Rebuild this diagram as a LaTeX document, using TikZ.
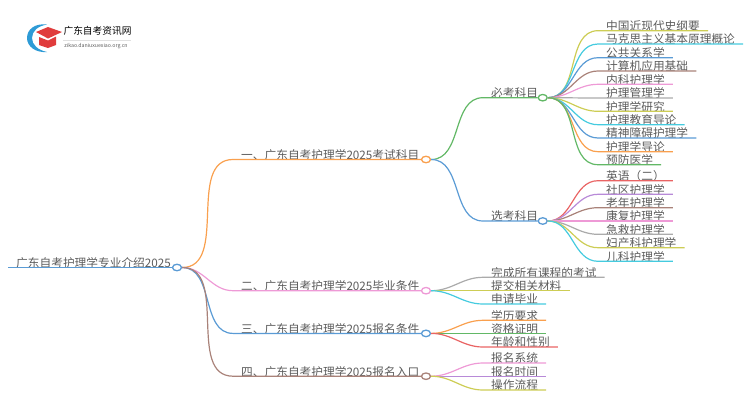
\documentclass[tikz,border=0pt]{standalone}
\usepackage{fontspec}
\setmainfont{Noto Sans CJK SC}
\usetikzlibrary{shapes.geometric}
\definecolor{cBlue}{HTML}{5A9BD5}
\definecolor{cOrange}{HTML}{F9A04E}
\definecolor{cGreen}{HTML}{62B866}
\definecolor{cPink}{HTML}{EE9AD6}
\definecolor{cBrown}{HTML}{A98279}
\definecolor{cOlive}{HTML}{CDCD55}
\definecolor{cCyan}{HTML}{45CBDF}
\definecolor{cGray}{HTML}{ABABAB}
\definecolor{cRed}{HTML}{E96464}
\definecolor{cPurple}{HTML}{B88AD8}
\definecolor{cText}{HTML}{5C5C5C}
\definecolor{cLogoBlue}{HTML}{2E9BD6}
\definecolor{cLogoRed}{HTML}{E03C3C}
\tikzset{
  topic/.style={anchor=south west, inner xsep=8pt, inner ysep=0pt, text height=10pt, text depth=0pt, text=cText, font=\fontsize{11.7}{12}\selectfont},
  dot/.style={draw=#1, fill=white, ellipse, line width=1.3pt, minimum width=9pt, minimum height=6.5pt, inner sep=0pt},
  link/.style={draw=#1, line width=1.2pt}
}
\begin{document}
\begin{tikzpicture}[x=1pt, y=-1pt]
  \useasboundingbox (0,0) rectangle (750,410);

  % logo
  \fill[cLogoBlue] (47,24.5) .. controls (34,23) and (27,30) .. (27,38) .. controls (27,46) and (35,53) .. (47,52) .. controls (38,50) and (32,45) .. (32,38) .. controls (32,31) and (38,26) .. (47,24.5) -- cycle;
  \fill[cLogoRed] (36,32) -- (48,27) -- (62,32) -- (48,38.5) -- cycle;
  \fill[cLogoRed] (39,37) -- (48,40.5) -- (56,36.5) -- (56,45) -- (48,48) -- (39,45) -- cycle;
  \node[inner sep=0pt, font=\fontsize{9.7}{10}\selectfont] (logotitle) at (97.5,31) {广东自考资讯网};
  \node[inner sep=0pt, text=cText, font=\fontsize{5.2}{6}\selectfont] (logourl) at (96,46.5) {zikao.daniuxuexiao.org.cn};
  \draw[black!12, line width=0.5pt] (63,40.5) -- (131,40.5);

  % root and first level
  \node[topic] (root) at (8,267.5) {广东自考护理学专业介绍2025};
  \node[topic] (exam) at (233,159.5) {一、广东自考护理学2025考试科目};
  \node[topic] (grad) at (233,290.7) {二、广东自考护理学2025毕业条件};
  \node[topic] (sign) at (233,333.4) {三、广东自考护理学2025报名条件};
  \node[topic] (entry) at (233,376.2) {四、广东自考护理学2025报名入口};
  \node[topic] (must) at (483,97.7) {必考科目};
  \node[topic] (opt) at (483,221) {选考科目};

  \node[dot=cBlue] (rootdot) at (177,267.5) {};
  \node[dot=cOrange] (examdot) at (426,159.5) {};
  \node[dot=cPink] (graddot) at (426,290.7) {};
  \node[dot=cBlue] (signdot) at (426,333.4) {};
  \node[dot=cBrown] (entrydot) at (426,376.2) {};
  \node[dot=cGreen] (mustdot) at (542.7,97.7) {};
  \node[dot=cBlue] (optdot) at (542.7,221) {};

  \draw[link=cBlue] (root.south west) -- (rootdot);
  \draw[link=cOrange] (rootdot.east) to[out=0,in=180] (exam.south west) -- (examdot);
  \draw[link=cPink] (rootdot.east) to[out=0,in=180] (grad.south west) -- (graddot);
  \draw[link=cBlue] (rootdot.east) to[out=0,in=180] (sign.south west) -- (signdot);
  \draw[link=cBrown] (rootdot.east) to[out=0,in=180] (entry.south west) -- (entrydot);
  \draw[link=cGreen] (examdot.east) to[out=0,in=180] (must.south west) -- (mustdot);
  \draw[link=cBlue] (examdot.east) to[out=0,in=180] (opt.south west) -- (optdot);

  % required subjects
  \node[topic] (m1) at (598,30.7) {中国近现代史纲要};
  \node[topic] (m2) at (598,44) {马克思主义基本原理概论};
  \node[topic] (m3) at (598,57.7) {公共关系学};
  \node[topic] (m4) at (598,71) {计算机应用基础};
  \node[topic] (m5) at (598,84.3) {内科护理学};
  \node[topic] (m6) at (598,98) {护理管理学};
  \node[topic] (m7) at (598,111.3) {护理学研究};
  \node[topic] (m8) at (598,124.7) {护理教育导论};
  \node[topic] (m9) at (598,138) {精神障碍护理学};
  \node[topic] (m10) at (598,151.7) {护理学导论};
  \node[topic] (m11) at (598,164.7) {预防医学};
  \draw[link=cOlive] (mustdot.east) to[out=0,in=180] (m1.south west) -- (m1.south east);
  \draw[link=cCyan] (mustdot.east) to[out=0,in=180] (m2.south west) -- (m2.south east);
  \draw[link=cBlue] (mustdot.east) to[out=0,in=180] (m3.south west) -- (m3.south east);
  \draw[link=cBrown] (mustdot.east) to[out=0,in=180] (m4.south west) -- (m4.south east);
  \draw[link=cPink] (mustdot.east) to[out=0,in=180] (m5.south west) -- (m5.south east);
  \draw[link=cGray] (mustdot.east) to[out=0,in=180] (m6.south west) -- (m6.south east);
  \draw[link=cOlive] (mustdot.east) to[out=0,in=180] (m7.south west) -- (m7.south east);
  \draw[link=cCyan] (mustdot.east) to[out=0,in=180] (m8.south west) -- (m8.south east);
  \draw[link=cBlue] (mustdot.east) to[out=0,in=180] (m9.south west) -- (m9.south east);
  \draw[link=cOrange] (mustdot.east) to[out=0,in=180] (m10.south west) -- (m10.south east);
  \draw[link=cGreen] (mustdot.east) to[out=0,in=180] (m11.south west) -- (m11.south east);

  % optional subjects
  \node[topic] (o1) at (598,180.7) {英语（二）};
  \node[topic] (o2) at (598,194.3) {社区护理学};
  \node[topic] (o3) at (598,207.7) {老年护理学};
  \node[topic] (o4) at (598,221) {康复护理学};
  \node[topic] (o5) at (598,234.3) {急救护理学};
  \node[topic] (o6) at (598,247.7) {妇产科护理学};
  \node[topic] (o7) at (598,261.3) {儿科护理学};
  \draw[link=cRed] (optdot.east) to[out=0,in=180] (o1.south west) -- (o1.south east);
  \draw[link=cPurple] (optdot.east) to[out=0,in=180] (o2.south west) -- (o2.south east);
  \draw[link=cBrown] (optdot.east) to[out=0,in=180] (o3.south west) -- (o3.south east);
  \draw[link=cPink] (optdot.east) to[out=0,in=180] (o4.south west) -- (o4.south east);
  \draw[link=cGray] (optdot.east) to[out=0,in=180] (o5.south west) -- (o5.south east);
  \draw[link=cOlive] (optdot.east) to[out=0,in=180] (o6.south west) -- (o6.south east);
  \draw[link=cCyan] (optdot.east) to[out=0,in=180] (o7.south west) -- (o7.south east);

  % the other three branches
  \node[topic] (g1) at (483,277.3) {完成所有课程的考试};
  \node[topic] (g2) at (483,290.7) {提交相关材料};
  \node[topic] (g3) at (483,304) {申请毕业};
  \draw[link=cGray] (graddot.east) to[out=0,in=180] (g1.south west) -- (g1.south east);
  \draw[link=cOlive] (graddot.east) to[out=0,in=180] (g2.south west) -- (g2.south east);
  \draw[link=cCyan] (graddot.east) to[out=0,in=180] (g3.south west) -- (g3.south east);

  \node[topic] (s1) at (483,320.3) {学历要求};
  \node[topic] (s2) at (483,333.4) {资格证明};
  \node[topic] (s3) at (483,347) {年龄和性别};
  \draw[link=cOrange] (signdot.east) to[out=0,in=180] (s1.south west) -- (s1.south east);
  \draw[link=cGreen] (signdot.east) to[out=0,in=180] (s2.south west) -- (s2.south east);
  \draw[link=cRed] (signdot.east) to[out=0,in=180] (s3.south west) -- (s3.south east);

  \node[topic] (e1) at (483,363) {报名系统};
  \node[topic] (e2) at (483,376.2) {报名时间};
  \node[topic] (e3) at (483,390) {操作流程};
  \draw[link=cPink] (entrydot.east) to[out=0,in=180] (e1.south west) -- (e1.south east);
  \draw[link=cPurple] (entrydot.east) to[out=0,in=180] (e2.south west) -- (e2.south east);
  \draw[link=cOlive] (entrydot.east) to[out=0,in=180] (e3.south west) -- (e3.south east);
\end{tikzpicture}
\end{document}
